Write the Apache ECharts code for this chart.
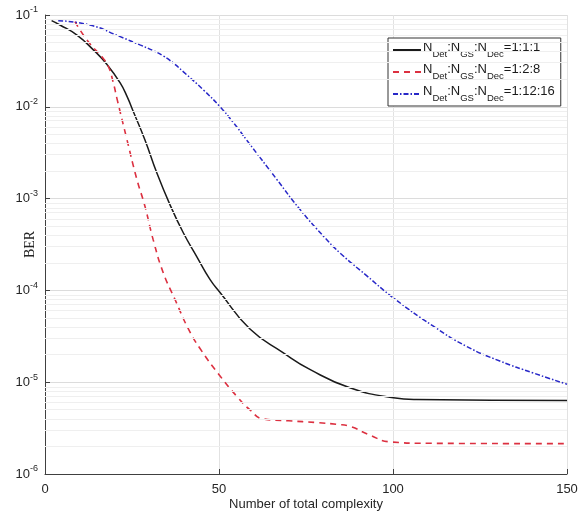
<!DOCTYPE html>
<html><head><meta charset="utf-8">
<script src="https://cdn.jsdelivr.net/npm/echarts@6/dist/echarts.min.js"></script>
<style>html,body{margin:0;padding:0;background:#fff}#c{width:578px;height:517px}</style>
</head><body><div id="c"></div>
<script>
const xTicks = [0, 50, 100, 150];
const yDecades = [-6, -5, -4, -3, -2, -1];
const seriesNames = ['1:1:1', '1:2:8', '1:12:16'];

const blackX = [1.9, 4.3, 9.1, 13.9, 17.7, 21.6, 23.6, 25.4, 28.7, 32.1, 35.9, 39.7, 43.6, 47.4, 50.3, 58.9, 68.5, 76.1, 87.6, 100.1, 106.8, 150];
const blackY = [0.0867, 0.0778, 0.0607, 0.0417, 0.0293, 0.0182, 0.0129, 0.00883, 0.00438, 0.00192, 8.6e-4, 4.27e-4, 2.34e-4, 1.32e-4, 9.5e-5, 3.8e-5, 2.09e-5, 1.38e-5, 8.7e-6, 6.76e-6, 6.46e-6, 6.3e-6];

const redX = [8.6, 12.4, 16.3, 18.2, 19.5, 20.8, 23.5, 26.4, 28.7, 31.1, 34.0, 37.4, 41.2, 44.5, 50.3, 55, 58.9, 62.7, 70, 78.1, 84, 87.6, 93, 99.1, 110, 150];
const redY = [0.0845, 0.0513, 0.0352, 0.0275, 0.0191, 0.01175, 0.00447, 0.00162, 8.3e-4, 3.55e-4, 1.55e-4, 7.9e-5, 3.8e-5, 2.34e-5, 1.17e-5, 7.1e-6, 5.0e-6, 3.98e-6, 3.8e-6, 3.63e-6, 3.47e-6, 3.31e-6, 2.69e-6, 2.24e-6, 2.16e-6, 2.14e-6];

const blueX = [3.8, 12.9, 21.6, 27.3, 31.1, 34.0, 36.9, 39.7, 45.5, 50.3, 54.1, 58.1, 66.6, 73.3, 80.5, 85, 92.4, 100.1, 111.6, 121.2, 130.7, 140.3, 150];
const blueY = [0.0867, 0.0778, 0.0581, 0.0472, 0.0409, 0.0358, 0.0299, 0.0242, 0.0153, 0.0100, 0.00676, 0.00427, 0.00162, 7.59e-4, 3.72e-4, 2.51e-4, 1.45e-4, 8.3e-5, 4.07e-5, 2.45e-5, 1.7e-5, 1.26e-5, 9.5e-6];

function pairs(xs, ys){ return xs.map((x,i)=>[x, ys[i]]); }

// minor log gridlines (2..9 per decade), placed on a hidden linear axis in log10 units
const minorLines = [];
for (let d = yDecades[0]; d < yDecades[yDecades.length-1]; d++)
  for (let m = 2; m <= 9; m++) minorLines.push({yAxis: d + Math.log10(m)});

const chart = echarts.init(document.getElementById('c'));
const font = "'Liberation Sans', Arial, sans-serif";
const legendRich = {
  n: {fontSize: 13, fontFamily: font, color: '#1a1a1a', lineHeight: 18, verticalAlign: 'top'},
  s: {fontSize: 9.5, fontFamily: font, color: '#1a1a1a', lineHeight: 10, verticalAlign: 'bottom'}
};
chart.setOption({
  animation: false,
  textStyle: {fontFamily: font},
  grid: {left: 45, right: 11, top: 15, bottom: 43, containLabel: false, outerBoundsMode: 'none'},
  legend: {
    orient: 'vertical', left: 388, top: 38,
    backgroundColor: '#fff', borderColor: '#333', borderWidth: 1,
    padding: [3, 6, 3, 4], itemGap: 4, itemWidth: 28, itemHeight: 14,
    data: seriesNames,
    itemStyle: {opacity: 0},
    formatter: function(name){ return '{n|N}{s|Det}{n|:N}{s|GS}{n|:N}{s|Dec}{n|=' + name + '}'; },
    textStyle: {rich: legendRich, padding: [0, 0, 0, -3]}
  },
  xAxis: {
    type: 'value', min: xTicks[0], max: xTicks[xTicks.length-1], interval: 50,
    name: 'Number of total complexity', nameLocation: 'middle', nameGap: 24, nameMoveOverlap: false,
    nameTextStyle: {fontSize: 13, color: '#262626', fontFamily: font},
    axisLine: {lineStyle: {color: '#404040'}},
    axisTick: {inside: true, length: 5, lineStyle: {color: '#404040'}},
    axisLabel: {fontSize: 13, color: '#262626', margin: 9},
    splitLine: {show: true, lineStyle: {color: '#e2e2e2'}}
  },
  yAxis: [{
    type: 'log', logBase: 10, min: Math.pow(10, yDecades[0]), max: Math.pow(10, yDecades[yDecades.length-1]),
    name: 'BER', nameLocation: 'middle', nameGap: 8, nameMoveOverlap: false,
    nameTextStyle: {fontSize: 14, color: '#262626', fontFamily: "'Liberation Serif', 'Times New Roman', serif"},
    axisLine: {show: true, lineStyle: {color: '#404040'}},
    axisTick: {inside: true, length: 5, lineStyle: {color: '#404040'}},
    axisLabel: {
      margin: 7, color: '#262626',
      formatter: function(v){ return '{b|10}{e|' + Math.round(Math.log10(v)) + '}'; },
      rich: {
        b: {fontSize: 13, fontFamily: font, color: '#262626'},
        e: {fontSize: 9, fontFamily: font, color: '#262626', padding: [0, 0, 10, 0]}
      }
    },
    splitLine: {show: true, lineStyle: {color: '#dcdcdc'}}
  }, {
    type: 'value', min: yDecades[0], max: yDecades[yDecades.length-1], show: false,
    splitLine: {show: false}
  }],
  series: [
    {
      name: '__minor', type: 'line', yAxisIndex: 1, data: [], silent: true, z: 1,
      markLine: {silent: true, symbol: 'none', label: {show: false}, animation: false,
        lineStyle: {color: '#efefef', type: 'solid', width: 1}, data: minorLines}
    },
    {
      name: seriesNames[0], type: 'line', data: pairs(blackX, blackY), smooth: 0.5,
      symbol: 'none', lineStyle: {color: '#1a1a1a', width: 1.5}, itemStyle: {color: '#1a1a1a'}, z: 3
    },
    {
      name: seriesNames[1], type: 'line', data: pairs(redX, redY), smooth: 0.5,
      symbol: 'none', lineStyle: {color: '#dc3040', width: 1.6, type: [6, 5]}, itemStyle: {color: '#dc3040'}, z: 3
    },
    {
      name: seriesNames[2], type: 'line', data: pairs(blueX, blueY), smooth: 0.5,
      symbol: 'none', lineStyle: {color: '#2828c8', width: 1.5, type: [5, 2, 1.5, 2]}, itemStyle: {color: '#2828c8'}, z: 3
    }
  ]
});
</script></body></html>
